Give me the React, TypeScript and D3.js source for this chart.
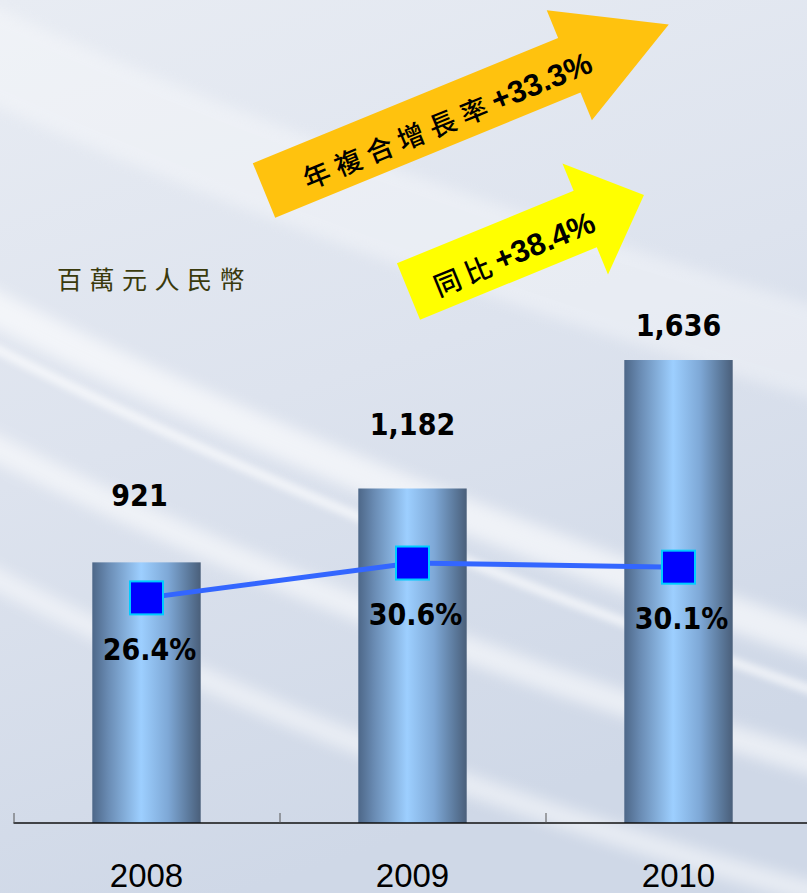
import React from "react";
import * as d3 from "d3";

// chart values
const years = ["2008", "2009", "2010"];
const revenue = [921, 1182, 1636];
const revenueLabels = ["921", "1,182", "1,636"];
const margin = [26.4, 30.6, 30.1];
const marginLabels = ["26.4%", "30.6%", "30.1%"];
const unitLabel = "百萬元人民幣";
const cagrText = ["年複合增長率", "+33.3%"];
const yoyText = ["同比", "+38.4%"];

const W = 807;
const H = 893;
const baseY = 823;

// label nudges (value labels were hand placed on the slide)
const valueLabelGap = [56, 53, 24];
const valueLabelDx = [-7, 0, 0];

const numFont = "'DejaVu Sans Condensed', 'DejaVu Sans', Verdana, sans-serif";

function arrowPath(shaftLen: number, sh: number, headLen: number, hh: number) {
  const p = d3.path();
  p.moveTo(0, -sh);
  p.lineTo(shaftLen, -sh);
  p.lineTo(shaftLen, -hh);
  p.lineTo(shaftLen + headLen, 0);
  p.lineTo(shaftLen, hh);
  p.lineTo(shaftLen, sh);
  p.lineTo(0, sh);
  p.closePath();
  return p.toString();
}

export default function App() {
  // x: one band per year, bars take ~41% of each band
  const x = d3.scaleBand().domain(years).range([13.5, 811.5]).padding(0);
  const barW = x.bandwidth() * 0.4075;
  const y = d3.scaleLinear().domain([0, 2000]).range([baseY, 257]);
  const y2 = d3.scaleLinear().domain([0, 50]).range([817, 402]);

  const cx = (d: string) => (x(d) as number) + x.bandwidth() / 2;

  const line = d3
    .line<number>()
    .x((_, i) => cx(years[i]))
    .y((d) => y2(d));

  const sq = 33;
  const angle = -22.3;

  return (
    <svg width={W} height={H} style={{ position: "absolute", left: 0, top: 0 }}>
      <defs>
        <linearGradient id="bg" x1="0" y1="0" x2="0.3" y2="1">
          <stop offset="0" stopColor="#e8ecf3" />
          <stop offset="0.5" stopColor="#dde3ee" />
          <stop offset="1" stopColor="#cfd8e7" />
        </linearGradient>
        <linearGradient id="bar" x1="0" y1="0" x2="1" y2="0">
          <stop offset="0" stopColor="#4d6788" />
          <stop offset="0.15" stopColor="#6a8cb4" />
          <stop offset="0.45" stopColor="#9dcfff" />
          <stop offset="0.7" stopColor="#7ea8d6" />
          <stop offset="0.9" stopColor="#5a7799" />
          <stop offset="1" stopColor="#4a5f7a" />
        </linearGradient>
        <filter id="blur" x="-20%" y="-20%" width="140%" height="140%">
          <feGaussianBlur stdDeviation="7" />
        </filter>
        <filter id="blur2" x="-20%" y="-20%" width="140%" height="140%">
          <feGaussianBlur stdDeviation="3" />
        </filter>
      </defs>

      {/* background */}
      <rect width={W} height={H} fill="url(#bg)" />
      <g fill="none" stroke="#ffffff" strokeLinecap="round">
        <path d="M -40,40 Q 300,200 840,360" strokeWidth={90} opacity={0.35} filter="url(#blur)" />
        <path d="M -40,290 Q 300,470 840,650" strokeWidth={34} opacity={0.6} filter="url(#blur)" />
        <path d="M -40,330 Q 320,520 840,700" strokeWidth={10} opacity={0.6} filter="url(#blur2)" />
        <path d="M -40,430 Q 350,630 840,770" strokeWidth={26} opacity={0.55} filter="url(#blur)" />
        <path d="M -40,560 Q 350,770 840,900" strokeWidth={22} opacity={0.5} filter="url(#blur)" />
      </g>

      {/* arrows */}
      <g transform={`translate(264,190.5) rotate(${angle})`}>
        <path d={arrowPath(330, 29.5, 107.5, 59.5)} fill="#ffc20e" />
        <text
          x={196}
          y={4}
          textAnchor="middle"
          dominantBaseline="central"
          fill="#000"
          fontFamily="'Liberation Sans', 'Noto Sans CJK TC', sans-serif"
        >
          <tspan letterSpacing={7} fontSize={27} fontWeight={500} fontFamily="'Noto Sans CJK TC', sans-serif">
            {cagrText[0]}
          </tspan>
          <tspan fontSize={31} fontWeight="bold">{cagrText[1]}</tspan>
        </text>
      </g>
      <g transform={`translate(408.5,291.5) rotate(${angle})`}>
        <path d={arrowPath(191, 30.5, 63.5, 60)} fill="#ffff00" />
        <text
          x={112}
          y={4.5}
          textAnchor="middle"
          dominantBaseline="central"
          fill="#000"
          fontFamily="'Liberation Sans', 'Noto Sans CJK TC', sans-serif"
        >
          <tspan letterSpacing={6} fontSize={27} fontWeight={500} fontFamily="'Noto Sans CJK TC', sans-serif">
            {yoyText[0]}
          </tspan>
          <tspan fontSize={31} fontWeight="bold">{yoyText[1]}</tspan>
        </text>
      </g>

      {/* unit label */}
      <text
        x={57}
        y={289}
        fontSize={25}
        letterSpacing={7.5}
        fill="#3a3a0c"
        fontFamily="'Noto Sans CJK TC', serif"
      >
        {unitLabel}
      </text>

      {/* bars */}
      {years.map((yr, i) => (
        <rect
          key={yr}
          x={cx(yr) - barW / 2}
          y={y(revenue[i])}
          width={barW}
          height={baseY - y(revenue[i])}
          fill="url(#bar)"
        />
      ))}

      {/* value labels */}
      {years.map((yr, i) => (
        <text
          key={"v" + yr}
          x={cx(yr) + valueLabelDx[i]}
          y={y(revenue[i]) - valueLabelGap[i]}
          textAnchor="middle"
          fontFamily={numFont}
          fontWeight="bold"
          fontSize={30}
          fill="#000"
        >
          {revenueLabels[i]}
        </text>
      ))}

      {/* axis */}
      <line x1={13.5} x2={W} y1={baseY} y2={baseY} stroke="#111" strokeWidth={1.5} />
      {years.map((yr) => (
        <line
          key={"t" + yr}
          x1={(x(yr) as number) + 0.5}
          x2={(x(yr) as number) + 0.5}
          y1={baseY}
          y2={baseY - 10}
          stroke="#555"
          strokeWidth={1}
        />
      ))}
      {years.map((yr) => (
        <text
          key={"y" + yr}
          x={cx(yr)}
          y={887}
          textAnchor="middle"
          fontFamily="'Liberation Sans', Arial, sans-serif"
          fontSize={33}
          fill="#000"
        >
          {yr}
        </text>
      ))}

      {/* margin line */}
      <path d={line(margin) || ""} fill="none" stroke="#3366ff" strokeWidth={5} />
      {years.map((yr, i) => (
        <rect
          key={"m" + yr}
          x={cx(yr) - sq / 2}
          y={y2(margin[i]) - sq / 2}
          width={sq}
          height={sq}
          fill="#0000ff"
          stroke="#00ccff"
          strokeWidth={2}
        />
      ))}
      {years.map((yr, i) => (
        <text
          key={"p" + yr}
          x={cx(yr) + 3}
          y={y2(margin[i]) + 62}
          textAnchor="middle"
          fontFamily={numFont}
          fontWeight="bold"
          fontSize={30}
          fill="#000"
        >
          {marginLabels[i]}
        </text>
      ))}
    </svg>
  );
}
